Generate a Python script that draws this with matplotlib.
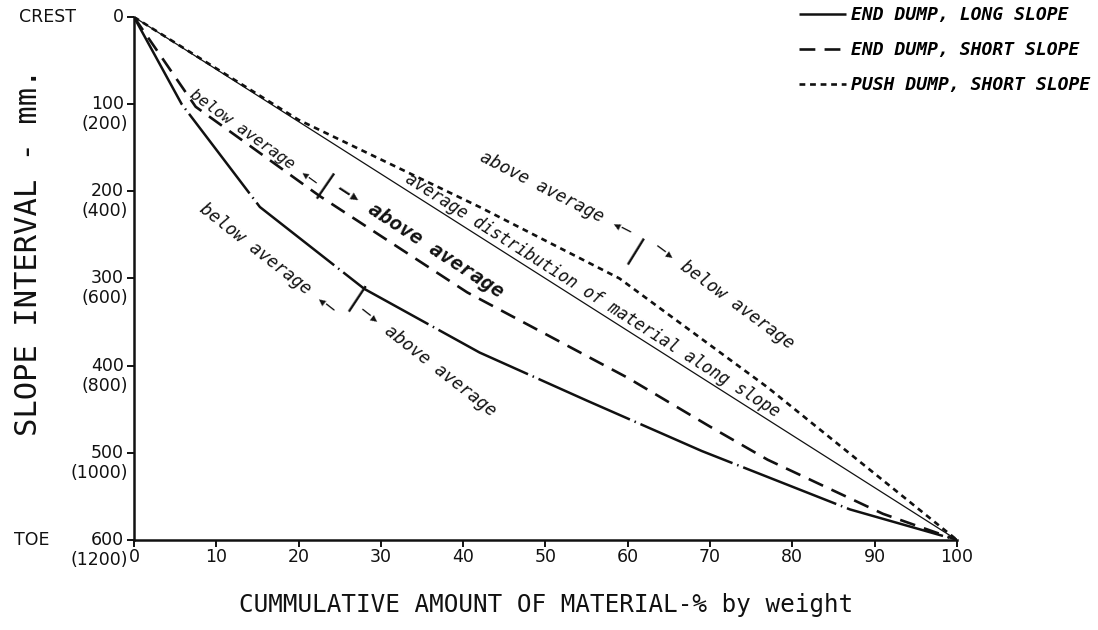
"""Dump slope segregation chart: cumulative material vs slope interval."""

import math

import matplotlib

matplotlib.use("Agg")
import matplotlib.pyplot as plt
from matplotlib.lines import Line2D

# end dump, long slope
long_pct = [0, 5.8, 15.3, 28, 42, 55, 69, 87, 100]
long_mm = [0, 100, 218, 312, 385, 440, 498, 565, 600]

# end dump, short slope
short_pct = [0, 7.5, 22.5, 40.5, 60, 70, 77, 91, 100]
short_mm = [0, 103, 205, 316, 414, 470, 508, 570, 600]

# push dump, short slope
push_pct = [0, 20, 42, 59, 77, 100]
push_mm = [0, 118, 218, 300, 425, 600]

# average distribution of material along slope
avg_pct = [0, 100]
avg_mm = [0, 600]

y_ticks = [0, 100, 200, 300, 400, 500, 600]
y_alt = [None, 200, 400, 600, 800, 1000, 1200]
x_ticks = [0, 10, 20, 30, 40, 50, 60, 70, 80, 90, 100]

INK = "#111111"
MONO = "DejaVu Sans Mono"
LS_LONG = (0, (40, 2, 0.6, 2))
LS_SHORT = (0, (6, 3.5))
LS_PUSH = (0, (2.2, 1.8))
THIN = "\u2009"


def _angle(ax, x0, y0, x1, y1):
    """Display-space angle (degrees) of the segment between two data points."""
    p0 = ax.transData.transform((x0, y0))
    p1 = ax.transData.transform((x1, y1))
    return math.degrees(math.atan2(p1[1] - p0[1], p1[0] - p0[0]))


def _put(ax, x, y, ang, text, off, ha="center", **kw):
    """Rotated text at a data point, shifted perpendicular to `ang` by `off` pixels."""
    nx = -math.sin(math.radians(ang)) * off
    ny = math.cos(math.radians(ang)) * off
    ax.annotate(text, (x, y), xytext=(nx, ny), textcoords="offset pixels",
                rotation=ang, rotation_mode="anchor", ha=ha, va="center",
                color=INK, family=MONO, **kw)


def _along(ax, xs, ys, seg, t, text, off, **kw):
    """Text along segment `seg` of a polyline at fraction t."""
    x0, y0, x1, y1 = xs[seg], ys[seg], xs[seg + 1], ys[seg + 1]
    ang = _angle(ax, x0, y0, x1, y1)
    _put(ax, x0 + t * (x1 - x0), y0 + t * (y1 - y0), ang, text, off, **kw)


def _break(ax, xs, ys, i, left, right, off_left, off_right, size,
           right_dir="out", left_size=None, right_kw=None):
    """Break marker at vertex i: '|' across the line, arrowed labels either side."""
    a_in = _angle(ax, xs[i - 1], ys[i - 1], xs[i], ys[i])
    a_out = _angle(ax, xs[i], ys[i], xs[i + 1], ys[i + 1])
    mid = 0.5 * (a_in + a_out)
    _put(ax, xs[i], ys[i], mid, "|", 0.5 * (off_left + off_right) * 0.6,
         fontsize=size * 1.7)
    _put(ax, xs[i], ys[i], a_in, left + " \u25c2\u2013" + THIN, off_left,
         ha="right", fontsize=left_size or size, style="italic")
    kw = {"fontsize": size, "style": "italic"}
    if right_kw:
        kw.update(right_kw)
    a_right = a_out if right_dir == "out" else a_in
    _put(ax, xs[i], ys[i], a_right, THIN + "\u2013\u25b8" + THIN + right, off_right,
         ha="left", **kw)


fig = plt.figure(figsize=(10.98, 6.3), dpi=100)
ax = fig.add_axes([0.122, 0.143, 0.7495, 0.830])
ax.set_xlim(0, 100)
ax.set_ylim(600, 0)

ax.plot(long_pct, long_mm, color=INK, lw=1.8, linestyle=LS_LONG)
ax.plot(short_pct, short_mm, color=INK, lw=1.9, linestyle=LS_SHORT)
ax.plot(push_pct, push_mm, color=INK, lw=1.9, linestyle=LS_PUSH)
ax.plot(avg_pct, avg_mm, color=INK, lw=0.9)

for side in ["top", "right"]:
    ax.spines[side].set_visible(False)
for side in ["left", "bottom"]:
    ax.spines[side].set_linewidth(1.8)
    ax.spines[side].set_color(INK)

ax.set_xticks(x_ticks)
ax.set_xticklabels([str(v) for v in x_ticks], fontsize=12.5)
ax.set_yticks(y_ticks)
ax.set_yticklabels([])
ax.tick_params(axis="both", length=5, width=1.4, color=INK, labelcolor=INK)
ax.tick_params(axis="x", pad=1)

for v, alt in zip(y_ticks, y_alt):
    ax.annotate(str(v), (0, v), xycoords=("axes fraction", "data"),
                xytext=(-10, 0), textcoords="offset pixels",
                ha="right", va="center", fontsize=12.5, color=INK)
    if alt is not None:
        ax.annotate(f"({alt})", (0, v), xycoords=("axes fraction", "data"),
                    xytext=(-6, -20), textcoords="offset pixels",
                    ha="right", va="center", fontsize=12.5, color=INK)
ax.annotate("CREST", (0, 0), xycoords=("axes fraction", "data"),
            xytext=(-58, 0), textcoords="offset pixels",
            ha="right", va="center", fontsize=12.5, color=INK)
ax.annotate("TOE", (0, 600), xycoords=("axes fraction", "data"),
            xytext=(-84, 0), textcoords="offset pixels",
            ha="right", va="center", fontsize=12.5, color=INK)

fig.text(0.026, 0.60, "SLOPE INTERVAL - mm.", rotation=90, ha="center",
         va="center", fontsize=22, color=INK, family=MONO)
fig.text(0.497, 0.04, "CUMMULATIVE AMOUNT OF MATERIAL-% by weight",
         ha="center", va="center", fontsize=17.5, color=INK, family=MONO)

# annotations along the curves
_along(ax, avg_pct, avg_mm, 0, 0.55, "average distribution of material along slope",
       11, fontsize=12, style="italic")
_break(ax, short_pct, short_mm, 2, "below average", "above average", 9, 18, 12.5,
       left_size=11.5, right_dir="out", right_kw={"fontsize": 14.5, "weight": "bold"})
_break(ax, long_pct, long_mm, 3, "below average", "above average", -36, -18, 12.5,
       right_dir="in")
_break(ax, push_pct, push_mm, 3, "above average", "below average", 46, 48, 12.5)

handles = [
    Line2D([], [], color=INK, lw=1.8, linestyle=LS_LONG),
    Line2D([], [], color=INK, lw=1.9, linestyle=LS_SHORT),
    Line2D([], [], color=INK, lw=1.9, linestyle=LS_PUSH),
]
labels = ["END DUMP, LONG SLOPE", "END DUMP, SHORT SLOPE", "PUSH DUMP, SHORT SLOPE"]
fig.legend(handles, labels, loc="upper right", bbox_to_anchor=(1.008, 1.016),
           frameon=False, handlelength=2.6, handletextpad=0.3, labelspacing=0.95,
           prop={"size": 13, "style": "italic", "weight": "bold", "family": MONO})

fig.savefig("out.png", dpi=100, facecolor="white")
